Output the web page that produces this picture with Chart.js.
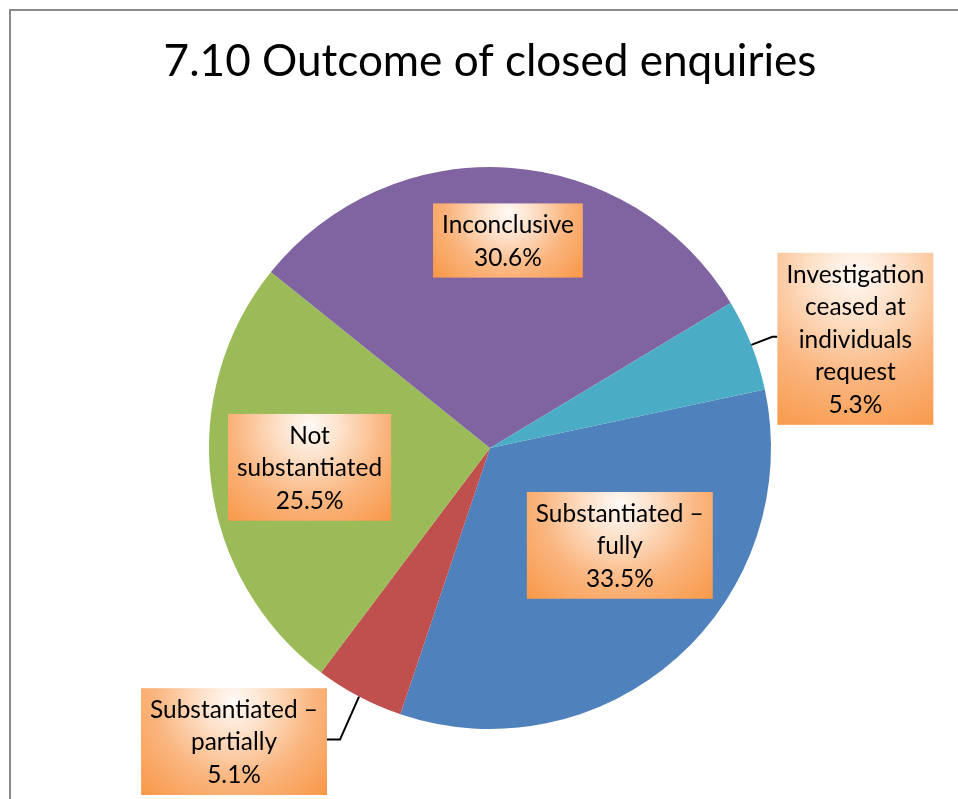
<!DOCTYPE html>
<html><head><meta charset="utf-8">
<script src="https://cdn.jsdelivr.net/npm/chart.js@4.4.1/dist/chart.umd.min.js"></script>
<style>html,body{margin:0;padding:0;background:#fff;}#wrap{position:relative;width:958px;height:799px;}</style>
</head><body><div id="wrap"><canvas id="c" width="958" height="799"></canvas></div>
<script>
// ---- data ----
const categories = ['Substantiated – fully','Substantiated – partially','Not substantiated','Inconclusive','Investigation ceased at individuals request'];
const labelLines = [['Substantiated –','fully'],['Substantiated –','partially'],['Not','substantiated'],['Inconclusive'],['Investigation','ceased at','individuals','request']];
const values = [33.5, 5.1, 25.5, 30.6, 5.3];
const valueLabels = ['33.5%','5.1%','25.5%','30.6%','5.3%'];
const titleText = '7.10 Outcome of closed enquiries';

// ---- style / layout ----
const colors = ['#4F81BD','#C0504D','#9BBB59','#8064A2','#4BACC6'];
const labelPlacement = [
  {frac:0.55, dx:27, dy:-18},
  {frac:1.0, dx:-125, dy:45, leader:'left', elbow:13},
  {frac:0.64, dx:-2, dy:-3},
  {frac:0.74, dx:4, dy:0},
  {frac:1.0, dx:104, dy:-6, leader:'right', elbow:5}
];
const FONT = 'Lato, "Open Sans", sans-serif';
function fitSize(text, target, base){
  const ctx = document.createElement('canvas').getContext('2d');
  ctx.font = base + 'px ' + FONT;
  return base * target / ctx.measureText(text).width;
}
const titleSize = fitSize(titleText, 653, 40);
const labelSize = fitSize('Substantiated –', 168, 20);
const LINE_H = 32.6, PAD_X = 9, PAD_Y = 4.5;

const titleLH = 1.2;
const titleMid = 62;
const titlePadTop = titleMid - titleSize*titleLH/2;
const areaTop = 167;
const titlePadBottom = areaTop - titlePadTop - titleSize*titleLH;

const framePlugin = {
  id:'frame',
  beforeDraw(chart){
    const ctx = chart.ctx;
    ctx.save();
    ctx.fillStyle = '#fff';
    ctx.fillRect(0,0,chart.width,chart.height);
    ctx.fillStyle = '#8a8a8a';
    ctx.fillRect(9,9,2,chart.height-9);
    ctx.fillRect(9,9,chart.width-9,2);
    ctx.restore();
  }
};

function drawBox(ctx, x, y, w, h){
  const cx = x + w/2;
  const R = Math.sqrt((w/2)*(w/2) + h*h);
  const g = ctx.createRadialGradient(cx, y + h*0.12, 0, cx, y + h*0.12, R);
  g.addColorStop(0,'#FFFAF6');
  g.addColorStop(0.25,'#FDDFC6');
  g.addColorStop(0.55,'#FAB680');
  g.addColorStop(1,'#F7923D');
  ctx.fillStyle = g;
  ctx.fillRect(x, y, w, h);
}

const labelPlugin = {
  id:'boxLabels',
  afterDatasetsDraw(chart){
    const ctx = chart.ctx;
    const meta = chart.getDatasetMeta(0);
    ctx.save();
    ctx.font = labelSize + 'px ' + FONT;
    meta.data.forEach((arc, i) => {
      const p = labelPlacement[i];
      const mid = (arc.startAngle + arc.endAngle)/2;
      const r = arc.outerRadius;
      const ex = arc.x + Math.cos(mid)*r, ey = arc.y + Math.sin(mid)*r;
      const ax = arc.x + Math.cos(mid)*r*p.frac + p.dx;
      const ay = arc.y + Math.sin(mid)*r*p.frac + p.dy;
      const lines = labelLines[i].concat([valueLabels[i]]);
      let tw = 0;
      lines.forEach(l => { tw = Math.max(tw, ctx.measureText(l).width); });
      const w = tw + 2*PAD_X, h = lines.length*LINE_H + 2*PAD_Y;
      const bx = ax - w/2, by = ay - h/2;
      if (p.leader){
        ctx.strokeStyle = '#000'; ctx.lineWidth = 2;
        ctx.beginPath();
        const ly = ay - 2;
        if (p.leader === 'right'){
          ctx.moveTo(ex, ey); ctx.lineTo(bx - p.elbow, ly); ctx.lineTo(bx, ly);
        } else {
          ctx.moveTo(ex, ey); ctx.lineTo(bx + w + p.elbow, ly); ctx.lineTo(bx + w, ly);
        }
        ctx.stroke();
      }
      drawBox(ctx, bx, by, w, h);
      ctx.fillStyle = '#000';
      ctx.textAlign = 'center';
      ctx.textBaseline = 'middle';
      lines.forEach((l, k) => {
        ctx.fillText(l, ax, by + PAD_Y + LINE_H*(k+0.5) + 1);
      });
    });
    ctx.restore();
  }
};

new Chart(document.getElementById('c'), {
  type:'pie',
  data:{ labels: categories, datasets:[{ data: values, backgroundColor: colors, borderWidth:0 }] },
  options:{
    responsive:false,
    animation:false,
    rotation:78,
    layout:{ padding:{ left:22, right:0, top:0, bottom:70 } },
    plugins:{
      legend:{ display:false },
      tooltip:{ enabled:false },
      title:{ display:true, text:titleText, color:'#000',
        font:{ family:FONT, size:titleSize, weight:'normal', lineHeight:titleLH },
        padding:{ top:titlePadTop, bottom:titlePadBottom } }
    }
  },
  plugins:[framePlugin, labelPlugin]
});
</script></body></html>
